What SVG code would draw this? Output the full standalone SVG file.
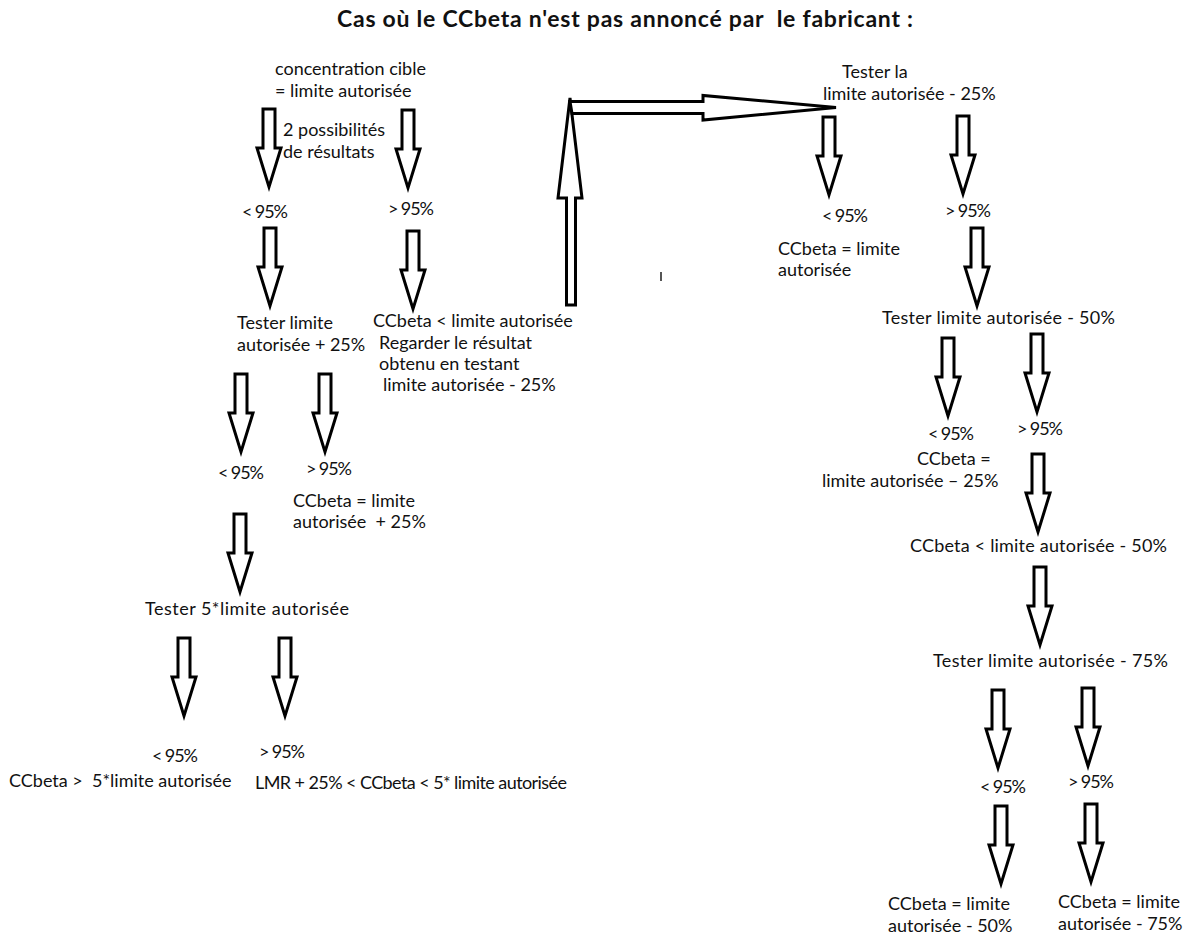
<svg xmlns="http://www.w3.org/2000/svg" xmlns:xlink="http://www.w3.org/1999/xlink" width="1193" height="938" viewBox="0 0 1193 938">
<style>
text{font-family:Lato,"Open Sans","Liberation Sans",sans-serif;font-size:18px;fill:#111}
.title{font-weight:bold;font-size:23px}
.arr{fill:#fff;stroke:#000;stroke-width:3;stroke-linejoin:miter}
</style>
<defs>
<path id="dn" class="arr" d="M-6,0 H6 V39 H12 L0,78 L-12,39 H-6 Z"/>
</defs>
<rect width="1193" height="938" fill="#fff"/>
<text class="title" x="337" y="27" textLength="576" xml:space="preserve">Cas où le CCbeta n'est pas annoncé par  le fabricant :</text>

<g id="connectors">
<use xlink:href="#dn" x="269" y="109"/>
<use xlink:href="#dn" x="408" y="110"/>
<use xlink:href="#dn" x="270" y="228"/>
<use xlink:href="#dn" x="413" y="231"/>
<use xlink:href="#dn" x="241" y="374"/>
<use xlink:href="#dn" x="325" y="374"/>
<use xlink:href="#dn" x="240" y="514"/>
<use xlink:href="#dn" x="184" y="638"/>
<use xlink:href="#dn" x="285" y="638"/>
<use xlink:href="#dn" x="829" y="117"/>
<use xlink:href="#dn" x="963" y="116"/>
<use xlink:href="#dn" x="977" y="228"/>
<use xlink:href="#dn" x="948" y="338"/>
<use xlink:href="#dn" x="1037" y="334"/>
<use xlink:href="#dn" x="1038" y="454"/>
<use xlink:href="#dn" x="1040" y="567"/>
<use xlink:href="#dn" x="998" y="690"/>
<use xlink:href="#dn" x="1088" y="688"/>
<use xlink:href="#dn" x="1001" y="806"/>
<use xlink:href="#dn" x="1091" y="804"/>
<path class="arr" d="M566.5,305 H575.5 V198 H582 L570,98 L558,198 H566.5 Z"/>
<path class="arr" d="M570,101.5 H703 V95.5 L836,107.5 L703,120 V113.5 H572 Z"/>
</g>
<rect x="660" y="272" width="2" height="9" fill="#555"/>

<g id="n-start"><text x="275" y="75">concentration cible</text><text x="275" y="97">= limite autorisée</text></g>
<g id="n-poss"><text x="283" y="136">2 possibilités</text><text x="283" y="158">de résultats</text></g>
<g id="n-l1"><text x="242" y="218" textLength="46">&lt; 95%</text></g>
<g id="n-r1"><text x="388" y="215" textLength="46">&gt; 95%</text></g>
<g id="n-test25"><text x="237" y="329">Tester limite</text><text x="237" y="351">autorisée + 25%</text></g>
<g id="n-ccinf"><text x="373" y="327">CCbeta &lt; limite autorisée</text><text x="379" y="349">Regarder le résultat</text><text x="379" y="370">obtenu en testant</text><text x="383" y="391">limite autorisée - 25%</text></g>
<g id="n-l2"><text x="218" y="479" textLength="46">&lt; 95%</text></g>
<g id="n-r2"><text x="306" y="475" textLength="46">&gt; 95%</text><text x="293" y="507">CCbeta = limite</text><text x="293" y="528" xml:space="preserve">autorisée  + 25%</text></g>
<g id="n-test5"><text x="145" y="615" textLength="204">Tester 5*limite autorisée</text></g>
<g id="n-l3"><text x="152" y="762" textLength="46">&lt; 95%</text><text x="9" y="787" xml:space="preserve">CCbeta &gt;  5*limite autorisée</text></g>
<g id="n-r3"><text x="259" y="758" textLength="46">&gt; 95%</text><text x="255" y="789" textLength="312">LMR + 25% &lt; CCbeta &lt; 5* limite autorisée</text></g>

<g id="n-testm25"><text x="842" y="78">Tester la</text><text x="823" y="100">limite autorisée - 25%</text></g>
<g id="n-rl1"><text x="822" y="222" textLength="46">&lt; 95%</text><text x="778" y="255">CCbeta = limite</text><text x="778" y="276">autorisée</text></g>
<g id="n-rr1"><text x="945" y="217" textLength="46">&gt; 95%</text></g>
<g id="n-testm50"><text x="882" y="324" textLength="233">Tester limite autorisée - 50%</text></g>
<g id="n-rl2"><text x="928" y="440" textLength="46">&lt; 95%</text><text x="917" y="465">CCbeta =</text><text x="822" y="487">limite autorisée – 25%</text></g>
<g id="n-rr2"><text x="1017" y="435" textLength="46">&gt; 95%</text></g>
<g id="n-ccm50"><text x="910" y="552" textLength="257">CCbeta &lt; limite autorisée - 50%</text></g>
<g id="n-testm75"><text x="933" y="667" textLength="235">Tester limite autorisée - 75%</text></g>
<g id="n-rl3"><text x="980" y="793" textLength="46">&lt; 95%</text><text x="888" y="910">CCbeta = limite</text><text x="888" y="932">autorisée - 50%</text></g>
<g id="n-rr3"><text x="1068" y="788" textLength="46">&gt; 95%</text><text x="1058" y="908">CCbeta = limite</text><text x="1058" y="930">autorisée - 75%</text></g>
</svg>
